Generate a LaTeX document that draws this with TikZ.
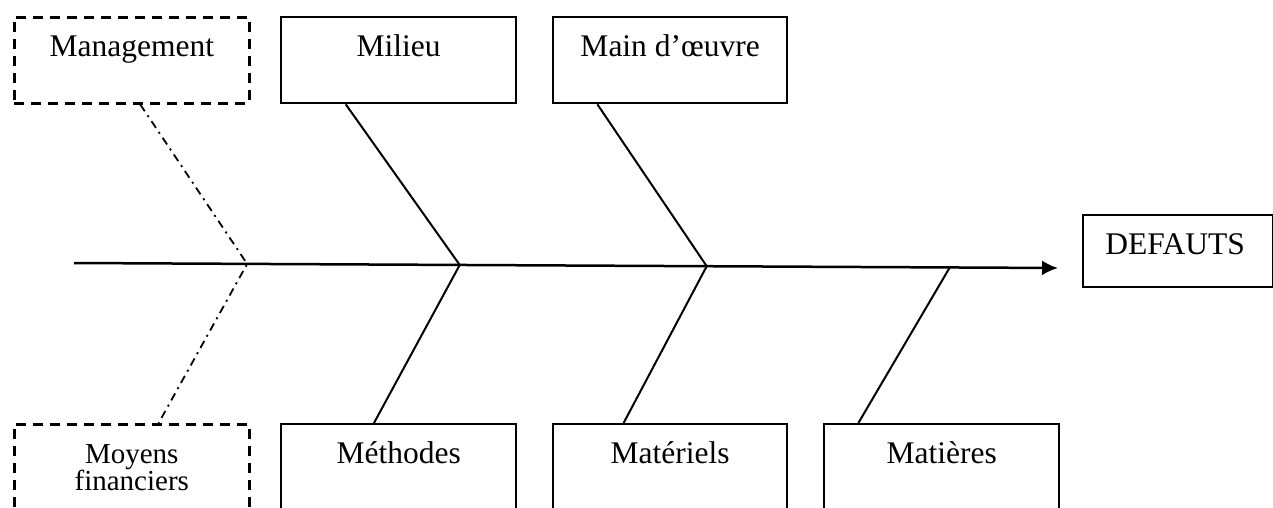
\documentclass[tikz,border=0pt]{standalone}
\usepackage{fontspec}
\setmainfont{Liberation Serif}
\usetikzlibrary{calc,arrows.meta}
\begin{document}
\begin{tikzpicture}[x=1pt,y=-1pt,
  box/.style={draw,line width=2.3pt,minimum width=#1,minimum height=86pt,inner sep=0pt,anchor=north west},
  box/.default=235pt,
  dbox/.style={box,dashed,line width=2.6pt,dash pattern=on 10pt off 7pt},
  lbl/.style={font=\fontsize{31.5}{36}\selectfont,anchor=base,inner sep=0pt},
  slbl/.style={font=\fontsize{29}{27}\selectfont,align=center,anchor=base,inner sep=0pt},
  bone/.style={line width=2pt},
  ddot/.style={line width=1.8pt,dash pattern=on 8pt off 5pt on 2pt off 5pt}]
\useasboundingbox (0,0) rectangle (1273,508);
\clip (0,0) rectangle (1273,508);
% top boxes
\node[dbox] (mgmt) at (13,16) {};
\node[box] (milieu) at (280,16) {};
\node[box=234pt] (main) at (552,16) {};
% bottom boxes
\node[dbox,minimum height=120pt] (moyens) at (13,423) {};
\node[box,minimum height=120pt] (meth) at (280,423) {};
\node[box=234pt,minimum height=120pt] (mat) at (552,423) {};
\node[box,minimum height=120pt] (matie) at (823,423) {};
% result
\node[box=190pt,minimum height=72pt] (def) at (1082,214) {};
% labels
\node[lbl] (tmgmt) at ($(mgmt.north)+(0,41)$) {Management};
\node[lbl] (tmilieu) at ($(milieu.north)+(0,41)$) {Milieu};
\node[lbl] (tmain) at ($(main.north)+(0,41)$) {Main d’œuvre};
\node[lbl] (tmeth) at ($(meth.north)+(0,40)$) {Méthodes};
\node[lbl] (tmat) at ($(mat.north)+(0,40)$) {Matériels};
\node[lbl] (tmatie) at ($(matie.north)+(0,40)$) {Matières};
\node[lbl] (tdef) at ($(def.north)+(-3,40)$) {DEFAUTS};
\node[slbl] (tmoy) at ($(moyens.north)+(0,67)$) {Moyens\\financiers};
% spine
\coordinate (s0) at (74,263);
\coordinate (s1) at (1058,268);
\draw[line width=2.5pt,-{Latex[length=16pt,width=15pt]}] (s0) -- (s1);
\coordinate (j0) at ($(s0)!0.176!(s1)$);
\coordinate (j1) at ($(s0)!0.392!(s1)$);
\coordinate (j2) at ($(s0)!0.643!(s1)$);
\coordinate (j3) at ($(s0)!0.890!(s1)$);
% bones
\draw[bone] ($(milieu.south west)!0.277!(milieu.south east)$) -- (j1);
\draw[bone] ($(main.south west)!0.192!(main.south east)$) -- (j2);
\draw[bone] ($(meth.north west)!0.396!(meth.north east)$) -- (j1);
\draw[bone] ($(mat.north west)!0.303!(mat.north east)$) -- (j2);
\draw[bone] ($(matie.north west)!0.149!(matie.north east)$) -- (j3);
\draw[ddot] ($(mgmt.south west)!0.536!(mgmt.south east)$) -- (j0) -- ($(moyens.north west)!0.613!(moyens.north east)$);
\end{tikzpicture}
\end{document}
